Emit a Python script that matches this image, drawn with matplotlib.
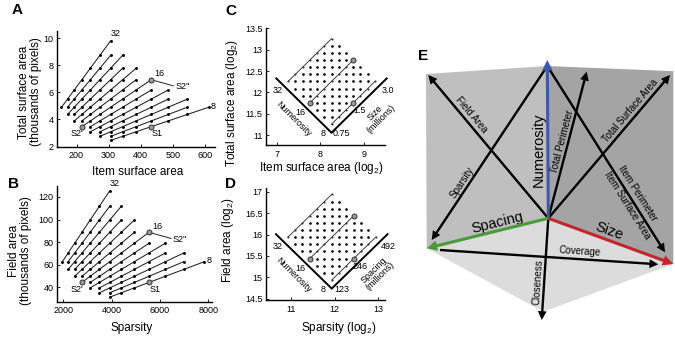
import numpy as np
import matplotlib
matplotlib.use('Agg')
import matplotlib.pyplot as plt
from matplotlib.patches import Polygon, FancyArrowPatch

plt.rcParams['font.family'] = ['Liberation Sans', 'DejaVu Sans']
plt.rcParams['mathtext.fontset'] = 'custom'
plt.rcParams['mathtext.rm'] = 'Liberation Sans'
plt.rcParams['mathtext.it'] = 'Liberation Sans:italic'
plt.rcParams['mathtext.bf'] = 'Liberation Sans:bold'

W, H = 675, 338

# ---------------- data ----------------
numerosity = [8, 8.98, 10.08, 11.31, 12.70, 14.25, 16, 17.96, 20.16, 22.63, 25.40, 28.51, 32]
size_millions = [0.75, 0.842, 0.945, 1.061, 1.191, 1.336, 1.5, 1.684, 1.890, 2.121, 2.381, 2.673, 3.0]
spacing_millions = [123, 138.1, 155.0, 174.0, 195.3, 219.2, 246, 276.1, 310.0, 347.9, 390.5, 438.4, 492]

highlight_lines = [12, 6, 0]          # numerosity indices: 32, 16, 8
circle_pts = {"S2'": (6, 0), "S2''": (6, 12), "S1": (0, 6)}   # (numerosity idx, level idx)

A_xticks = [200, 300, 400, 500, 600]
A_yticks = [2, 4, 6, 8, 10]
B_xticks = [2000, 4000, 6000, 8000]
B_yticks = [40, 60, 80, 100, 120]
C_xticks = [7, 8, 9]
C_yticks = [11, 11.5, 12, 12.5, 13, 13.5]
D_xticks = [11, 12, 13]
D_yticks = [14.5, 15, 15.5, 16, 16.5, 17]


def design(levels):
    """per numerosity: level indices, item-level value, total value"""
    out = []
    for i, n in enumerate(numerosity):
        js = [j for j in range(len(levels)) if (i + j) % 2 == 0]
        L = np.array([levels[j] * 1e6 for j in js])
        out.append((js, np.sqrt(L / n), np.sqrt(L * n)))
    return out


def point(levels, i, j):
    L = levels[j] * 1e6
    n = numerosity[i]
    return np.sqrt(L / n), np.sqrt(L * n)


fig = plt.figure(figsize=(W / 100, H / 100), dpi=100)


def px_axes(x0, y0, x1, y1):
    return fig.add_axes([x0 / W, 1 - y1 / H, (x1 - x0) / W, (y1 - y0) / H])


def ftext(x, y, s, **kw):
    kw.setdefault('ha', 'center')
    kw.setdefault('va', 'center')
    fig.text(x / W, 1 - y / H, s, **kw)


def style(ax):
    for s in ['top', 'right']:
        ax.spines[s].set_visible(False)
    for s in ['left', 'bottom']:
        ax.spines[s].set_linewidth(1.0)
    ax.tick_params(direction='in', length=2.5, width=0.6, labelsize=6.5)
    ax.tick_params(axis='x', pad=3.5)
    ax.tick_params(axis='y', pad=2.5)
    ax.patch.set_alpha(0)


LINE_C = '#222222'
CIRC_FC = '#9a9a9a'
CIRC_EC = '#333333'
FS_SMALL = 6.5


def linear_panel(ax, levels, xscale, yscale):
    d = design(levels)
    for js, item, total in d:
        ax.plot(item * xscale, total * yscale, '-', color=LINE_C, lw=0.75,
                marker='o', ms=2.1, mfc='k', mec='k', mew=0)
    for name, (i, j) in circle_pts.items():
        x, y = point(levels, i, j)
        ax.plot([x * xscale], [y * yscale], 'o', ms=3.6, mfc=CIRC_FC, mec=CIRC_EC, mew=0.7, zorder=5)
    # labels
    x, y = point(levels, 12, 12)
    ax.annotate('32', (x * xscale, y * yscale), xytext=(0, 2), textcoords='offset points',
                ha='left', va='bottom', fontsize=FS_SMALL)
    x, y = point(levels, 6, 12)
    ax.annotate('16', (x * xscale, y * yscale), xytext=(6, 4.3), textcoords='offset points',
                ha='center', va='center', fontsize=FS_SMALL)
    ax.annotate("S2''", (x * xscale, y * yscale), xytext=(22.5, -5.0), textcoords='offset points',
                ha='center', va='center', fontsize=FS_SMALL)
    ax.annotate('', (x * xscale, y * yscale), xytext=(16, -4.4), textcoords='offset points',
                arrowprops=dict(arrowstyle='-', color=LINE_C, lw=0.7, shrinkA=0, shrinkB=2))
    x, y = point(levels, 6, 0)
    ax.annotate("S2'", (x * xscale, y * yscale), xytext=(-3.6, -5.2), textcoords='offset points',
                ha='center', va='center', fontsize=FS_SMALL)
    x, y = point(levels, 0, 6)
    ax.annotate('S1', (x * xscale, y * yscale), xytext=(4.2, -5.2), textcoords='offset points',
                ha='center', va='center', fontsize=FS_SMALL)
    x, y = point(levels, 0, 12)
    ax.annotate('8', (x * xscale, y * yscale), xytext=(1.5, 0.8), textcoords='offset points',
                ha='left', va='center', fontsize=FS_SMALL, annotation_clip=False)


def log_panel(ax, levels):
    d = design(levels)
    for i, (js, item, total) in enumerate(d):
        if i in highlight_lines:
            ax.plot(np.log2(item), np.log2(total), '-', color='#333333', lw=0.65,
                    marker='o', ms=1.5, mfc='#333333', mec='#333333', mew=0)
        else:
            ax.plot(np.log2(item), np.log2(total), 'o', ms=1.9, mfc='k', mec='k', mew=0)
    for name, (i, j) in circle_pts.items():
        x, y = point(levels, i, j)
        ax.plot([np.log2(x)], [np.log2(y)], 'o', ms=3.6, mfc=CIRC_FC, mec=CIRC_EC, mew=0.7, zorder=5)
    # V axis below diamond
    xb, yb = point(levels, 0, 0)
    vx, vy = np.log2(xb), np.log2(yb) - 0.2
    top = vy + 1.27
    ax.plot([vx - (top - vy), vx, vx + (top - vy)], [top, vy, top], '-', color='k', lw=1.4,
            clip_on=False, solid_joinstyle='miter')


# ---------------- Panel A ----------------
axA = px_axes(57.3, 30.7, 215, 146.5)
linear_panel(axA, size_millions, 1.0, 1e-3)
axA.set_xlim(140, 632)
axA.set_ylim(2, 10.55)
axA.set_xticks(A_xticks)
axA.set_yticks(A_yticks)
style(axA)
ftext(16.7, 10, 'A', fontsize=11, fontweight='bold')
ftext(30, 92, 'Total surface area\n(thousands of pixels)', rotation=90, fontsize=8.5,
      multialignment='center', linespacing=1.05)
ftext(138, 172, 'Item surface area', fontsize=8.5)

# ---------------- Panel B ----------------
axB = px_axes(57.3, 185.7, 212, 301.5)
linear_panel(axB, spacing_millions, 1.0, 1e-3)
axB.set_xlim(1752, 8157)
axB.set_ylim(27.5, 130)
axB.set_xticks(B_xticks)
axB.set_yticks(B_yticks)
style(axB)
ftext(13.7, 184, 'B', fontsize=11, fontweight='bold')
ftext(20, 251, 'Field area\n(thousands of pixels)', rotation=90, fontsize=8.5,
      multialignment='center', linespacing=1.1)
ftext(131.7, 328, 'Sparsity', fontsize=8.5)

# ---------------- Panel C ----------------
axC = px_axes(266, 28, 385, 145)
log_panel(axC, size_millions)
axC.set_xlim(6.75, 9.49)
axC.set_ylim(10.77, 13.51)
axC.set_xticks(C_xticks)
axC.set_yticks(C_yticks)
axC.set_yticklabels([('%g' % v) for v in C_yticks])
style(axC)
ftext(231, 11, 'C', fontsize=11, fontweight='bold')
ftext(231.7, 103, 'Total surface area (log$_2$)', rotation=90, fontsize=8.5)
ftext(321.7, 168, 'Item surface area (log$_2$)', fontsize=8.5)
for s, x, y in [('32', 278, 90.7), ('16', 300, 112.3), ('8', 322.7, 133), ('0.75', 341.7, 134),
                ('1.5', 360, 110.7), ('3.0', 388, 90.7)]:
    ftext(x, y, s, fontsize=FS_SMALL)
ftext(293.3, 119, 'Numerosity', rotation=-45, fontsize=FS_SMALL, rotation_mode='anchor')
ftext(378, 116, 'Size\n(millions)', rotation=45, fontsize=FS_SMALL, rotation_mode='anchor',
      multialignment='center', linespacing=1.0)

# ---------------- Panel D ----------------
axD = px_axes(266, 188.3, 385, 300)
log_panel(axD, spacing_millions)
axD.set_xlim(10.44, 13.15)
axD.set_ylim(14.47, 17.08)
axD.set_xticks(D_xticks)
axD.set_yticks(D_yticks)
axD.set_yticklabels([('%g' % v) for v in D_yticks])
style(axD)
ftext(231, 184.5, 'D', fontsize=11, fontweight='bold')
ftext(228, 240, 'Field area (log$_2$)', rotation=90, fontsize=8.5)
ftext(339, 328, 'Sparsity (log$_2$)', fontsize=8.5)
for s, x, y in [('32', 278, 246.7), ('16', 300, 268.3), ('8', 322.7, 289), ('123', 341.7, 290),
                ('246', 360, 266.7), ('492', 388, 246.7)]:
    ftext(x, y, s, fontsize=FS_SMALL)
ftext(293.3, 275, 'Numerosity', rotation=-45, fontsize=FS_SMALL, rotation_mode='anchor')
ftext(377, 273, 'Spacing\n(millions)', rotation=45, fontsize=FS_SMALL, rotation_mode='anchor',
      multialignment='center', linespacing=1.0)

# ---------------- Panel E ----------------
axE = fig.add_axes([400 / W, 0, 275 / W, 1])
axE.set_xlim(400, 675)
axE.set_ylim(H, 0)
axE.axis('off')

center = (548.3, 218.3)
top_c = (547.3, 66)
left_face = [(426, 74), top_c, center, (426.7, 248.3)]
right_face = [top_c, (673.3, 71.2), (673.3, 264), center]
bottom_face = [center, (426.7, 248.3), (543.3, 311.7), (673.3, 264)]
axE.add_patch(Polygon(left_face, closed=True, fc='#bfbfbf', ec='none'))
axE.add_patch(Polygon(right_face, closed=True, fc='#a4a4a4', ec='none'))
axE.add_patch(Polygon(bottom_face, closed=True, fc='#dcdcdc', ec='none'))


def arrow(p0, p1, color='k', lw=1.7, ms=9, z=3):
    axE.add_patch(FancyArrowPatch(p0, p1, arrowstyle='-|>', mutation_scale=ms, lw=lw,
                                  color=color, shrinkA=0, shrinkB=0, zorder=z,
                                  joinstyle='miter', capstyle='butt'))


arrow(center, (428.3, 75))          # field area
arrow(top_c, (431.7, 240))          # sparsity
arrow(center, (586.7, 71.7))        # total perimeter
arrow(center, (670, 75))            # total surface area
arrow(top_c, (665, 252.3))          # item perimeter / item surface area
arrow((440, 250), (658.3, 264.3))   # coverage
arrow(center, (541.7, 320))         # closeness
arrow(center, (547.3, 60), color='#3b5ba6', lw=2.2, ms=10, z=4)    # numerosity
arrow(center, (426.7, 248.3), color='#4a9a3a', lw=2.2, ms=10, z=4)  # spacing
arrow(center, (673.3, 264), color='#c0282d', lw=2.2, ms=10, z=4)    # size


def etext(x, y, s, rot, fs=7):
    axE.text(x, y, s, rotation=rot, rotation_mode='anchor', ha='center', va='center', fontsize=fs)


etext(471, 115, 'Field Area', -50)
etext(461.7, 183, 'Sparsity', 56.5)
etext(562, 142, 'Total Perimeter', 75.3)
etext(630, 111, 'Total Surface Area', 49.7)
etext(638, 193, 'Item Perimeter', -57.7)
etext(627.5, 205, 'Item Surface Area', -57.7)
etext(580, 251.7, 'Coverage', -3.75)
etext(537.5, 282.5, 'Closeness', 86.3)
etext(539, 150, 'Numerosity', 90, fs=10.5)
etext(497.5, 222.5, 'Spacing', 13.9, fs=10.5)
etext(609, 231, 'Size', -20, fs=10.5)
fig.text(423 / W, 1 - 56 / H, 'E', fontsize=11, fontweight='bold', ha='center', va='center')

fig.savefig('out.png', dpi=100)
